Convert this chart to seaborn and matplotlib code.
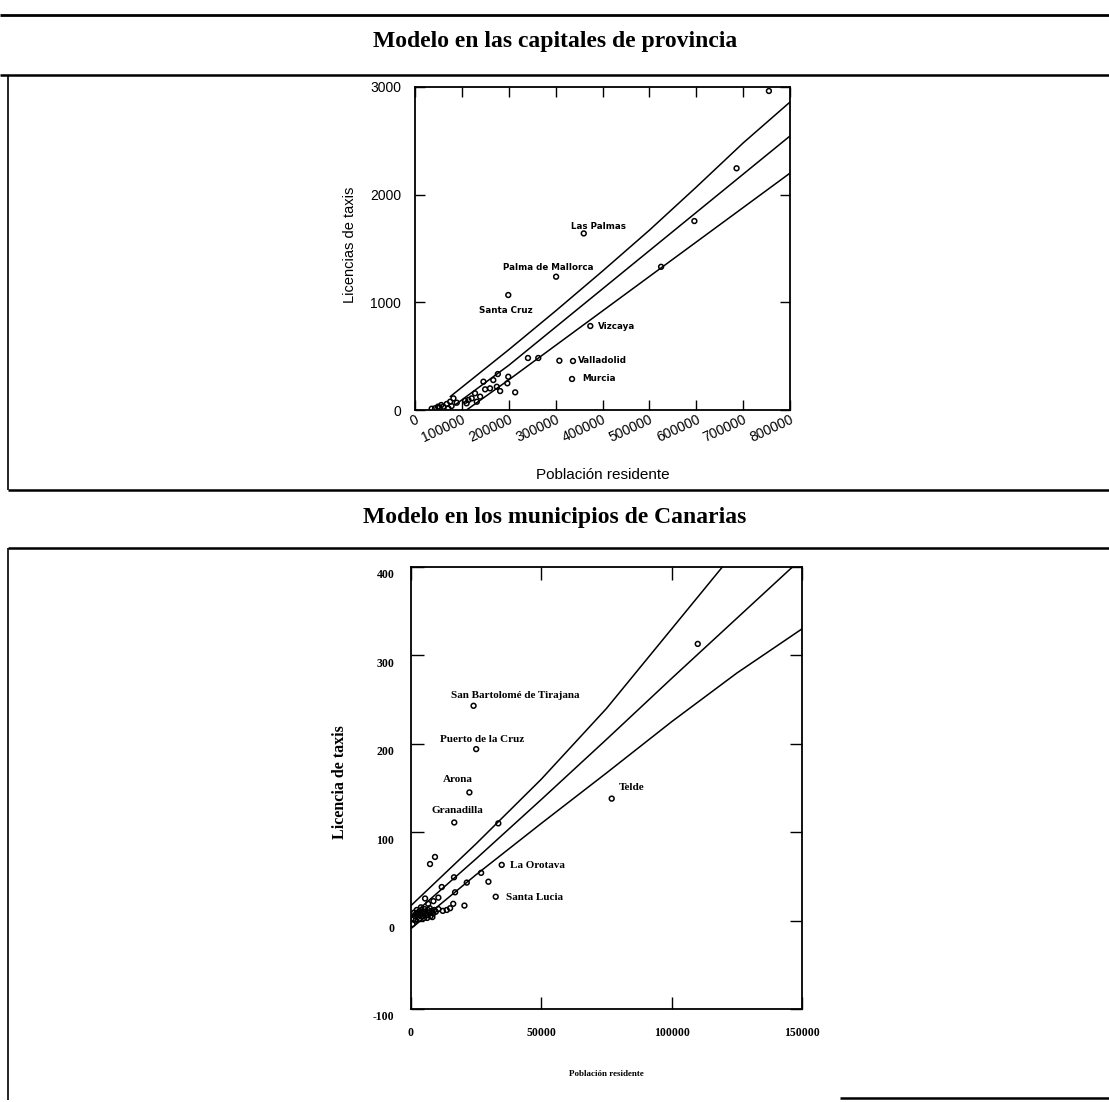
import matplotlib
matplotlib.use("Agg")
import matplotlib.pyplot as plt
import matplotlib.transforms as mtransforms
from matplotlib.lines import Line2D
import seaborn as sns

# ---------------- Capitales de provincia ----------------
cap_pob = [360000, 301000, 199000, 374000, 337000, 335000,
           308000, 241000, 263000, 525000, 596000, 686000, 755000,
           213700, 197000, 199000, 181600, 174500, 160000, 149600, 167000,
           176700, 139000, 131800, 121000, 114000, 110000, 82000, 75000,
           67700, 60500, 52000, 42700, 35600, 71000, 78000, 56000, 49000,
           89000, 107000, 128000, 146000]
cap_lic = [1640, 1238, 1068, 780, 455, 288,
           458, 483, 483, 1330, 1755, 2245, 2963,
           164, 248, 309, 176, 216, 201, 192, 278,
           334, 124, 77, 108, 93, 62, 108, 77,
           56, 31, 25, 16, 12, 16, 37, 46, 31,
           68, 86, 155, 263]

cap_etiquetas = ["Las Palmas", "Palma de Mallorca", "Santa Cruz",
                 "Vizcaya", "Valladolid", "Murcia"]
cap_etq_x = [392000, 284000, 194500, 391000, 348000, 357000]
cap_etq_y = [1708, 1321, 922, 780, 458, 288]
cap_etq_ha = ["center", "center", "center", "left", "left", "left"]

# bandas del modelo (superior, ajuste, inferior)
cap_sup_x = [75000, 200000, 300000, 400000, 500000, 600000, 700000, 800000]
cap_sup_y = [124, 560, 920, 1290, 1670, 2070, 2480, 2860]
cap_med_x = [85000, 200000, 300000, 400000, 500000, 600000, 700000, 800000]
cap_med_y = [46, 415, 770, 1125, 1480, 1835, 2190, 2545]
cap_inf_x = [110000, 200000, 300000, 400000, 500000, 600000, 700000, 800000]
cap_inf_y = [0, 280, 600, 920, 1240, 1560, 1880, 2200]

cap_xticks = [0, 100000, 200000, 300000, 400000, 500000, 600000, 700000, 800000]
cap_yticks = [0, 1000, 2000, 3000]

# ---------------- Municipios de Canarias ----------------
can_pob = [24000, 25000, 22400, 16600, 77000, 34800, 32500,
           110000, 33500, 9200, 7300, 29700, 26900, 21400, 16900, 20500,
           16200, 15000, 13700, 12200, 10500, 16500, 11800, 10500, 8600,
           5400, 6600,
           1000, 1500, 2000, 2500, 3000, 3500, 4000, 4500, 5000, 5500,
           6000, 6500, 7000, 7500, 8000, 8500, 9000, 1200, 2200, 3200,
           4200, 5200, 6200, 7200, 8200, 600, 1800, 2800, 3800, 4800, 9500]
can_lic = [243, 194, 145, 111, 138, 63, 27,
           313, 110, 72, 64, 44, 54, 43, 32, 17,
           19, 14, 12, 11, 13, 49, 38, 26, 22,
           25, 19,
           2, 5, 8, 4, 10, 6, 12, 8, 3, 10,
           6, 12, 9, 5, 11, 8, 12, 9, 12, 2,
           5, 13, 3, 14, 4, -4, 0, 7, 15, 10, 10]

can_etiquetas = ["San Bartolomé de Tirajana", "Puerto de la Cruz", "Arona",
                 "Granadilla", "Telde", "La Orotava", "Santa Lucia"]
can_etq_x = [39900, 27200, 17800, 17800, 79900, 38000, 36500]
can_etq_y = [255, 205, 160, 124, 150, 62, 26]
can_etq_ha = ["center", "center", "center", "center", "left", "left", "left"]

can_band_x = [0, 25000, 50000, 75000, 100000, 125000, 150000]
can_sup_y = [17, 87, 160, 240, 330, 420, 515]
can_med_y = [5, 70, 137, 205, 274, 342, 410]
can_inf_y = [-9, 52, 110, 167, 225, 280, 330]

can_xticks = [0, 50000, 100000, 150000]
can_yticks = [-100, 0, 100, 200, 300, 400]

# ---------------- figura ----------------
sns.set_theme(style="white")
plt.rcParams["font.family"] = ["Liberation Sans", "DejaVu Sans"]
plt.rcParams.update({"text.color": "black", "axes.labelcolor": "black",
                     "xtick.color": "black", "ytick.color": "black",
                     "axes.edgecolor": "black"})

W, H = 1109, 1102
fig = plt.figure(figsize=(W / 100, H / 100), dpi=100)
fig.patch.set_facecolor("white")


def fx(x):
    return x / W


def fy(y):
    return 1 - y / H


def regla(x0, y0, x1, y1, lw):
    fig.add_artist(Line2D([fx(x0), fx(x1)], [fy(y0), fy(y1)],
                          transform=fig.transFigure, color="black",
                          lw=lw, solid_capstyle="butt"))


# marcos de la página
regla(0, 15, W, 15, 2.0)
regla(0, 75, W, 75, 1.8)
regla(8, 75, 8, 490, 1.2)
regla(8, 490, W, 490, 1.8)
regla(8, 548, W, 548, 1.8)
regla(8, 548, 8, 1100, 1.2)
regla(840, 1098, W, 1098, 1.8)

serif = ["Liberation Serif", "DejaVu Serif"]
fig.text(fx(555), fy(42), "Modelo en las capitales de provincia",
         ha="center", va="center", fontsize=17, fontweight="bold",
         family=serif, color="black")
fig.text(fx(555), fy(518), "Modelo en los municipios de Canarias",
         ha="center", va="center", fontsize=17, fontweight="bold",
         family=serif, color="black")

# ---------- panel superior ----------
ax1 = fig.add_axes([fx(415), fy(410), (790 - 415) / W, (410 - 87) / H])
sns.scatterplot(x=cap_pob, y=cap_lic, ax=ax1, marker="o", s=12,
                facecolor="none", edgecolor="black", linewidth=1.1,
                legend=False, zorder=3)
for xs, ys in [(cap_sup_x, cap_sup_y), (cap_med_x, cap_med_y),
               (cap_inf_x, cap_inf_y)]:
    sns.lineplot(x=xs, y=ys, ax=ax1, color="black", lw=1.1,
                 estimator=None, sort=False, legend=False)
for t, x, y, ha in zip(cap_etiquetas, cap_etq_x, cap_etq_y, cap_etq_ha):
    ax1.text(x, y, t, ha=ha, va="center", fontsize=6.3, fontweight="bold",
             family=["DejaVu Sans"], color="black")

ax1.set_xlim(0, 800000)
ax1.set_ylim(0, 3000)
ax1.set_xticks(cap_xticks)
ax1.set_xticklabels([str(v) for v in cap_xticks], rotation=25, ha="right",
                    va="top", rotation_mode="anchor", fontsize=10)
ax1.set_yticks(cap_yticks)
ax1.set_yticklabels([str(v) for v in cap_yticks], fontsize=10)
ax1.tick_params(axis="both", direction="in", top=True, right=True,
                bottom=True, left=True, length=7, width=1.0, colors="black")
ax1.tick_params(axis="x", pad=2)
ax1.tick_params(axis="y", pad=10)
for sp in ax1.spines.values():
    sp.set_color("black")
    sp.set_linewidth(1.3)
ax1.set_xlabel("")
ax1.set_ylabel("")
fig.text(fx(603), fy(475), "Población residente", ha="center", va="center",
         fontsize=11, color="black")
fig.text(fx(350), fy(245), "Licencias de taxis", ha="center", va="center",
         rotation=90, fontsize=10.5, color="black")

# ---------- panel inferior ----------
ax2 = fig.add_axes([fx(411), fy(1009), (802 - 411) / W, (1009 - 567) / H])
sns.scatterplot(x=can_pob, y=can_lic, ax=ax2, marker="o", s=12,
                facecolor="none", edgecolor="black", linewidth=1.1,
                legend=False, zorder=3)
for ys in [can_sup_y, can_med_y, can_inf_y]:
    sns.lineplot(x=can_band_x, y=ys, ax=ax2, color="black", lw=1.1,
                 estimator=None, sort=False, legend=False)
for t, x, y, ha in zip(can_etiquetas, can_etq_x, can_etq_y, can_etq_ha):
    ax2.text(x, y, t, ha=ha, va="center", fontsize=8, fontweight="bold",
             family=serif, color="black")

ax2.set_xlim(0, 150000)
ax2.set_ylim(-100, 400)
ax2.set_xticks(can_xticks)
ax2.set_xticklabels([str(v) for v in can_xticks], fontsize=8.5,
                    fontweight="bold", family=serif)
ax2.set_yticks(can_yticks)
ax2.set_yticklabels([str(v) for v in can_yticks], fontsize=8.5,
                    fontweight="bold", family=serif)
ax2.tick_params(axis="both", direction="in", top=True, right=True,
                bottom=True, left=True, length=9, width=1.0, colors="black")
ax2.tick_params(axis="x", pad=13)
ax2.tick_params(axis="y", pad=12)
shift = mtransforms.ScaledTranslation(0, -7 / 100, fig.dpi_scale_trans)
for lbl in ax2.get_yticklabels():
    lbl.set_transform(lbl.get_transform() + shift)
for sp in ax2.spines.values():
    sp.set_color("black")
    sp.set_linewidth(1.3)
ax2.set_xlabel("")
ax2.set_ylabel("")
fig.text(fx(606), fy(1074), "Población residente", ha="center", va="center",
         fontsize=6.5, fontweight="bold", family=serif, color="black")
fig.text(fx(340), fy(782), "Licencia de taxis", ha="center", va="center",
         rotation=90, fontsize=11.5, fontweight="bold", family=serif,
         color="black")

fig.savefig("out.png", dpi=100, facecolor="white")
